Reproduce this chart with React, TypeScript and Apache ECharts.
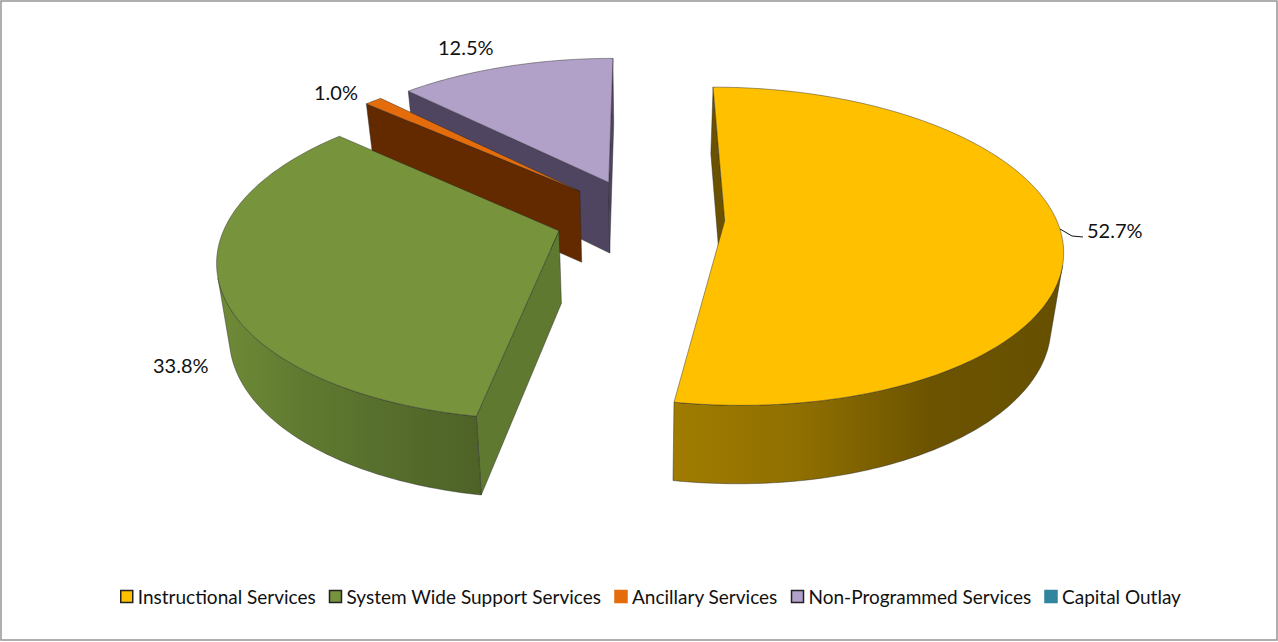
import React, { useEffect, useRef } from "react";
import * as echarts from "echarts";

// Budget categories and their share of the total, in percent
const categories = [
  "Instructional Services",
  "System Wide Support Services",
  "Ancillary Services",
  "Non-Programmed Services",
  "Capital Outlay",
];
const shares = [52.7, 33.8, 1.0, 12.5, 0];

const topColors = ["#FFC000", "#77933C", "#E46C0A", "#B1A0C7", "#31859C"];
const radialWallColors = ["#6B5200", "#5F7A30", "#632A00", "#4F4560", "#1F5A6A"];
const outerWallStops = [
  ["#A07C00", "#8F6F00", "#6C5300", "#665000"],
  ["#6F8B37", "#5F7A30", "#566D2C", "#4E6227"],
  ["#632A00", "#632A00", "#632A00", "#632A00"],
  ["#4F4560", "#4F4560", "#4F4560", "#4F4560"],
  ["#1F5A6A", "#1F5A6A", "#1F5A6A", "#1F5A6A"],
];
const legendBorders = ["#222222", "#222222", "#E46C0A", "#222222", "#31859C"];
// Far-to-near paint order so nearer slices cover farther ones
const paintOrder = [5, 4, 3, 2, 1];
const labelAnchors: [number, number][] = [
  [1087, 230],
  [153, 365],
  [314, 92],
  [438, 47],
  [0, 0],
];

// Projection of the tilted, exploded pie
const CX = 640;
const CY = 217.5;
const RADIUS = 331;
const TILT = 154;
const PERSPECTIVE = 0.159;
const EXPLODE = 0.256;
const HEIGHT = 72;
const HEIGHT_PERSPECTIVE = 0.08;
const BOTTOM_SHRINK = 0.97;
const FONT = "Lato";

type Pt = [number, number];

const toRad = (deg: number) => (deg * Math.PI) / 180;

function topPoint(x: number, y: number): Pt {
  const p = 1 / (1 + PERSPECTIVE * y);
  return [CX + x * RADIUS * p, CY - TILT * y * p];
}

function bottomPoint(x: number, y: number): Pt {
  const [sx, sy] = topPoint(x, y);
  return [CX + (sx - CX) * BOTTOM_SHRINK, sy + HEIGHT / (1 + HEIGHT_PERSPECTIVE * y)];
}

function signedArea(pts: Pt[]) {
  let a = 0;
  pts.forEach((p, i) => {
    const q = pts[(i + 1) % pts.length];
    a += p[0] * q[1] - q[0] * p[1];
  });
  return a;
}

const EDGE = { stroke: "rgba(40,40,40,0.55)", lineWidth: 0.8, lineJoin: "round" };

function sliceRenderer(index: number) {
  return (_params: unknown, api: { value: (d: number) => number }) => {
    const value = api.value(0);
    if (!value) return { type: "group", children: [] };
    const before = shares.slice(0, index).reduce((a, b) => a + b, 0);
    const start = (before / 100) * 360;
    const end = ((before + value) / 100) * 360;
    const mid = toRad((start + end) / 2);
    const ox = EXPLODE * Math.sin(mid);
    const oy = EXPLODE * Math.cos(mid);

    const arc: [number, number][] = [];
    const steps = Math.max(2, Math.ceil(end - start));
    for (let i = 0; i <= steps; i++) {
      const t = toRad(start + ((end - start) * i) / steps);
      arc.push([ox + Math.sin(t), oy + Math.cos(t)]);
    }
    const apex: [number, number] = [ox, oy];
    const children: object[] = [];

    // A wall is drawn only when it turns towards the viewer
    const wall = (a: [number, number], b: [number, number]): Pt[] => [
      topPoint(a[0], a[1]),
      topPoint(b[0], b[1]),
      bottomPoint(b[0], b[1]),
      bottomPoint(a[0], a[1]),
    ];
    const addRadial = (a: [number, number], b: [number, number]) => {
      const quad = wall(a, b);
      if (signedArea(quad) < 0) {
        children.push({
          type: "polygon",
          shape: { points: quad },
          style: { fill: radialWallColors[index], ...EDGE },
        });
      }
    };
    addRadial(apex, arc[0]);
    addRadial(arc[arc.length - 1], apex);

    // Outer rim, one polygon per run of consecutive visible segments
    let run: [number, number][] = [];
    const flush = () => {
      if (run.length > 1) {
        const points: Pt[] = [
          ...run.map((q) => topPoint(q[0], q[1])),
          ...run.slice().reverse().map((q) => bottomPoint(q[0], q[1])),
        ];
        const c = outerWallStops[index];
        children.push({
          type: "polygon",
          shape: { points },
          style: {
            fill: new echarts.graphic.LinearGradient(0, 0, 1, 0, [
              { offset: 0, color: c[0] },
              { offset: 0.33, color: c[1] },
              { offset: 0.66, color: c[2] },
              { offset: 1, color: c[3] },
            ]),
            ...EDGE,
          },
        });
      }
      run = [];
    };
    for (let i = 0; i < arc.length - 1; i++) {
      if (signedArea(wall(arc[i], arc[i + 1])) < 0) {
        if (!run.length) run.push(arc[i]);
        run.push(arc[i + 1]);
      } else {
        flush();
      }
    }
    flush();

    children.push({
      type: "polygon",
      shape: {
        points: [topPoint(apex[0], apex[1]), ...arc.map((q) => topPoint(q[0], q[1]))],
      },
      style: { fill: topColors[index], ...EDGE },
    });

    const [lx, ly] = labelAnchors[index];
    children.push({
      type: "text",
      style: {
        text: `${value.toFixed(1)}%`,
        x: lx,
        y: ly,
        fontFamily: FONT,
        fontSize: 20,
        fill: "#111111",
        align: "left",
        verticalAlign: "middle",
      },
    });
    return { type: "group", children };
  };
}

export default function App() {
  const ref = useRef<HTMLDivElement>(null);

  useEffect(() => {
    document.body.style.margin = "0";
    const chart = echarts.init(ref.current!, undefined, { renderer: "svg" });
    chart.setOption({
      animation: false,
      backgroundColor: "#FFFFFF",
      legend: {
        left: 120,
        top: 587,
        padding: 0,
        icon: "rect",
        itemWidth: 12,
        itemHeight: 12,
        itemGap: 13,
        selectedMode: false,
        textStyle: { fontFamily: FONT, fontSize: 19, color: "#111111" },
        data: categories.map((name, i) => ({
          name,
          itemStyle: { color: topColors[i], borderColor: legendBorders[i], borderWidth: 1.5 },
        })),
      },
      graphic: [
        {
          type: "rect",
          shape: { x: 1, y: 1, width: 1276, height: 639 },
          style: { fill: "none", stroke: "#959595", lineWidth: 1.5 },
          silent: true,
        },
        {
          type: "polyline",
          shape: { points: [[1060, 229], [1072, 236], [1083, 237]] },
          style: { fill: "none", stroke: "#111111", lineWidth: 1 },
          silent: true,
        },
      ],
      series: categories.map((name, i) => ({
        type: "custom",
        name,
        coordinateSystem: "none",
        z: paintOrder[i],
        silent: true,
        itemStyle: { color: topColors[i] },
        data: [[shares[i]]],
        renderItem: sliceRenderer(i),
      })),
    });
    return () => chart.dispose();
  }, []);

  return <div ref={ref} style={{ width: 1278, height: 642 }} />;
}
